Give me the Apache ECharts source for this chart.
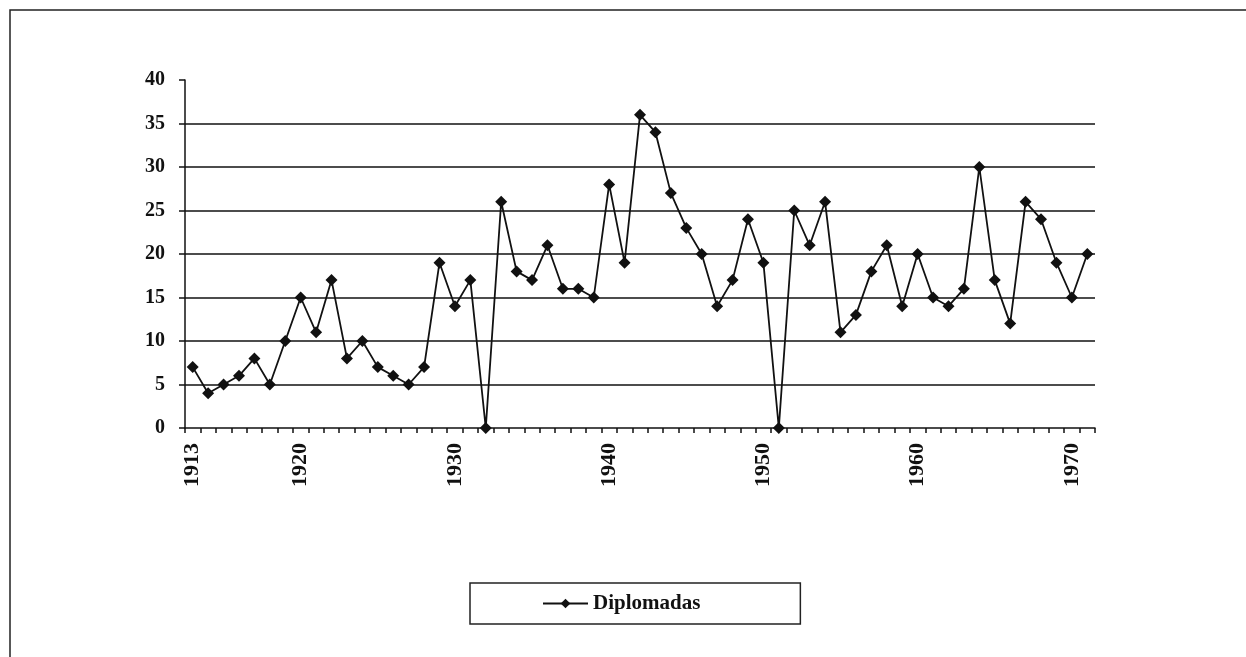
<!DOCTYPE html>
<html>
<head>
<meta charset="utf-8">
<script src="https://cdn.jsdelivr.net/npm/echarts@6/dist/echarts.min.js"></script>
<style>
html,body{margin:0;padding:0;background:#fff;}
#chart{width:1246px;height:657px;}
</style>
</head>
<body>
<div id="chart"></div>
<script>
const years = [];
for (let y = 1913; y <= 1971; y++) years.push(String(y));
const diplomadas = [
  7, 4, 5, 6, 8, 5, 10, 15, 11, 17,
  8, 10, 7, 6, 5, 7, 19, 14, 17, 0,
  26, 18, 17, 21, 16, 16, 15, 28, 19, 36,
  34, 27, 23, 20, 14, 17, 24, 19, 0, 25,
  21, 26, 11, 13, 18, 21, 14, 20, 15, 14,
  16, 30, 17, 12, 26, 24, 19, 15, 20
];
const labelYears = ['1913', '1920', '1930', '1940', '1950', '1960', '1970'];
const gridValues = [5, 10, 15, 20, 25, 30, 35];
const seriesName = 'Diplomadas';

const chart = echarts.init(document.getElementById('chart'), null, {renderer: 'canvas'});
const font = 'Liberation Serif, Times New Roman, serif';
chart.setOption({
  animation: false,
  backgroundColor: '#fff',
  graphic: [{
    type: 'rect',
    shape: {x: 10, y: 10, width: 1300, height: 700},
    style: {fill: 'none', stroke: '#222', lineWidth: 1.5},
    silent: true
  }],
  grid: {left: 185, top: 80, right: 151, bottom: 229, containLabel: false},
  legend: {
    data: [seriesName],
    left: 470,
    top: 583,
    width: 330,
    padding: [10, 100, 10, 72],
    borderColor: '#222',
    borderWidth: 1.5,
    itemWidth: 45,
    itemHeight: 12,
    itemGap: 8,
    textStyle: {fontFamily: font, fontSize: 21, fontWeight: 'bold', color: '#111'}
  },
  xAxis: {
    type: 'category',
    data: years,
    boundaryGap: true,
    axisLine: {lineStyle: {color: '#111', width: 1.5}},
    axisTick: {show: true, interval: 0, length: 5, lineStyle: {color: '#111', width: 1.5}},
    axisLabel: {
      interval: (idx, val) => labelYears.includes(val),
      rotate: 90,
      margin: 15,
      fontFamily: font,
      fontSize: 22,
      fontWeight: 'bold',
      color: '#111'
    },
    splitLine: {show: false}
  },
  yAxis: {
    type: 'value',
    min: 0,
    max: 40,
    interval: 5,
    axisLine: {show: true, lineStyle: {color: '#111', width: 1.5}},
    axisTick: {show: true, length: 6, lineStyle: {color: '#111', width: 1.5}},
    axisLabel: {margin: 20, fontFamily: font, fontSize: 20, fontWeight: 'bold', color: '#111'},
    splitLine: {show: false}
  },
  series: [{
    name: seriesName,
    type: 'line',
    data: diplomadas,
    symbol: 'diamond',
    symbolSize: 12,
    showAllSymbol: true,
    itemStyle: {color: '#111'},
    lineStyle: {color: '#111', width: 1.8},
    markLine: {
      silent: true,
      symbol: ['none', 'none'],
      label: {show: false},
      lineStyle: {color: '#111', width: 1.5, type: 'solid'},
      data: gridValues.map(v => ({yAxis: v}))
    },
    z: 3
  }]
});
</script>
</body>
</html>
